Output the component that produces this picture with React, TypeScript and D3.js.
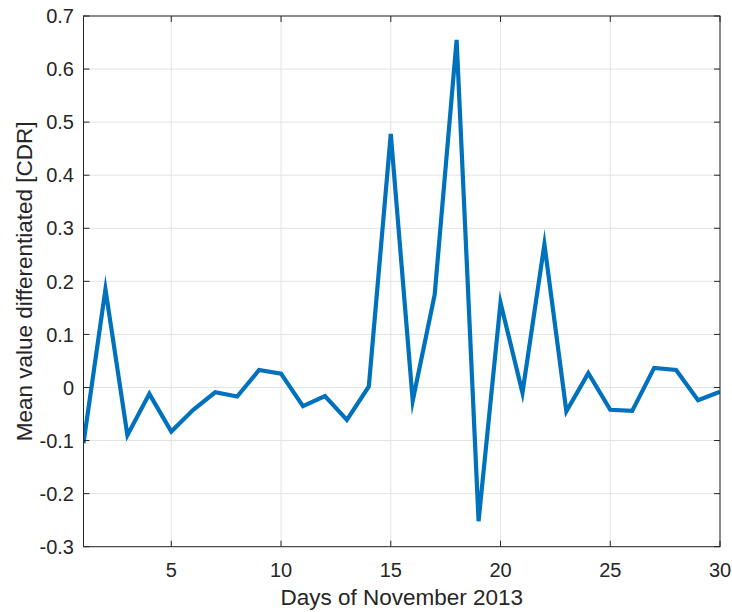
import React from "react";
import * as d3 from "d3";

const days: number[] = d3.range(1, 31);
const values: number[] = [
  -0.105, 0.185, -0.09, -0.012, -0.083, -0.042, -0.009, -0.017, 0.033, 0.026,
  -0.035, -0.016, -0.061, 0.002, 0.478, -0.025, 0.175, 0.655, -0.252, 0.16,
  -0.01, 0.27, -0.045, 0.027, -0.042, -0.044, 0.037, 0.033, -0.024, -0.008,
];
const xTicks: number[] = [5, 10, 15, 20, 25, 30];
const yTicks: number[] = [-0.3, -0.2, -0.1, 0, 0.1, 0.2, 0.3, 0.4, 0.5, 0.6, 0.7];
const xLabel = "Days of November 2013";
const yLabel = "Mean value differentiated [CDR]";

const W = 732;
const H = 612;
const left = 83.5;
const right = 720;
const top = 16;
const bottom = 546.7;

export default function App() {
  const x = d3.scaleLinear().domain([1, 30]).range([left, right]);
  const y = d3.scaleLinear().domain([-0.3, 0.7]).range([bottom, top]);
  const line = d3
    .line<number>()
    .x((_, i) => x(days[i]))
    .y((d) => y(d));
  const font = "Arial, 'Liberation Sans', Helvetica, sans-serif";
  const txt = "#262626";
  const axisC = "#262626";
  const grid = "#e3e3e3";
  const tl = 6;
  const fmt = (v: number) => (Math.abs(v) < 1e-9 ? "0" : d3.format(".1f")(v).replace("\u2212", "-"));
  return (
    <svg
      width={W}
      height={H}
      style={{ position: "absolute", left: 0, top: 0, background: "#fff" }}
      fontFamily={font}
    >
      <defs>
        <clipPath id="plotclip">
          <rect x={left} y={top - 10} width={right - left} height={bottom - top + 20} />
        </clipPath>
      </defs>
      {xTicks.map((t) => (
        <line key={"gx" + t} x1={x(t)} x2={x(t)} y1={top} y2={bottom} stroke={grid} strokeWidth={1} />
      ))}
      {yTicks.map((t) => (
        <line key={"gy" + t} x1={left} x2={right} y1={y(t)} y2={y(t)} stroke={grid} strokeWidth={1} />
      ))}
      <path
        d={line(values) || ""}
        fill="none"
        stroke="#0072BD"
        strokeWidth={4.2}
        strokeLinejoin="miter"
        strokeMiterlimit={10}
        clipPath="url(#plotclip)"
      />
      <rect x={left} y={top} width={right - left} height={bottom - top} fill="none" stroke={axisC} strokeWidth={1} />
      {xTicks.map((t) => (
        <g key={"tx" + t}>
          <line x1={x(t)} x2={x(t)} y1={bottom} y2={bottom - tl} stroke={axisC} />
          <line x1={x(t)} x2={x(t)} y1={top} y2={top + tl} stroke={axisC} />
          <text x={x(t)} y={577} textAnchor="middle" fontSize={20} fill={txt}>
            {t}
          </text>
        </g>
      ))}
      {yTicks.map((t) => (
        <g key={"ty" + t}>
          <line x1={left} x2={left + tl} y1={y(t)} y2={y(t)} stroke={axisC} />
          <line x1={right} x2={right - tl} y1={y(t)} y2={y(t)} stroke={axisC} />
          <text x={74} y={y(t)} dy="0.36em" textAnchor="end" fontSize={20} fill={txt}>
            {fmt(t)}
          </text>
        </g>
      ))}
      <text x={(left + right) / 2} y={605} textAnchor="middle" fontSize={22.5} fill={txt}>
        {xLabel}
      </text>
      <text
        transform={`translate(31.5, ${(top + bottom) / 2}) rotate(-90)`}
        textAnchor="middle"
        fontSize={22.5}
        fill={txt}
      >
        {yLabel}
      </text>
    </svg>
  );
}
